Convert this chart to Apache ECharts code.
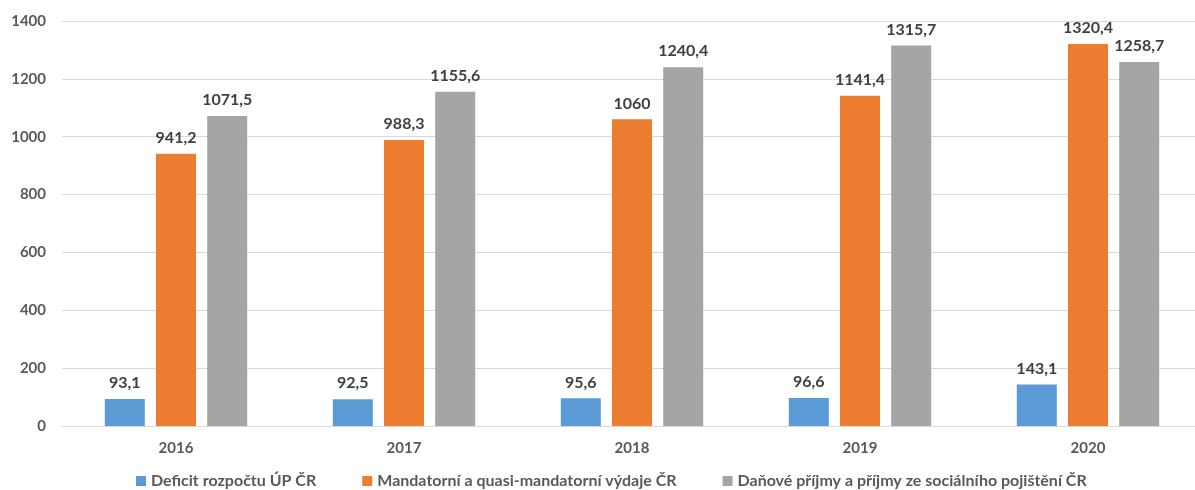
<!DOCTYPE html>
<html>
<head>
<meta charset="UTF-8">
<title>Deficit a výdaje</title>
<script src="https://cdn.jsdelivr.net/npm/echarts@6/dist/echarts.min.js"></script>
<style>
  html, body { margin: 0; padding: 0; background: #fff; }
  #main { width: 1195px; height: 490px; }
</style>
</head>
<body>
<div id="main"></div>
<script type="text/javascript">
// data
var years = ['2016', '2017', '2018', '2019', '2020'];
var deficit = [93.1, 92.5, 95.6, 96.6, 143.1];
var mandatorni = [941.2, 988.3, 1060, 1141.4, 1320.4];
var prijmy = [1071.5, 1155.6, 1240.4, 1315.7, 1258.7];
var seriesNames = [
  'Deficit rozpočtu ÚP ČR',
  'Mandatorní a quasi-mandatorní výdaje ČR',
  'Daňové příjmy a příjmy ze sociálního pojištění ČR'
];
var colors = ['#5B9BD5', '#ED7D31', '#A5A5A5'];

var font = 'Lato, "Open Sans", sans-serif';

function fmt(p) {
  return String(p.value).replace('.', ',');
}

function makeSeries(name, data, color) {
  return {
    name: name,
    type: 'bar',
    data: data,
    barWidth: 40,
    barGap: '28%',
    itemStyle: { color: color },
    label: {
      show: true,
      position: 'top',
      distance: 8,
      formatter: fmt,
      color: '#404040',
      fontWeight: 'bold',
      fontSize: 16,
      fontFamily: font
    }
  };
}

var myChart = echarts.init(document.getElementById('main'));
var option = {
  animation: false,
  grid: { left: 62, width: 1140, top: 21, height: 405, outerBoundsMode: 'none', containLabel: false },
  legend: {
    top: 473,
    left: 136,
    itemWidth: 10,
    itemHeight: 10,
    itemGap: 46,
    icon: 'rect',
    padding: 0,
    data: seriesNames,
    textStyle: { color: '#595959', fontSize: 16, fontWeight: 'bold', fontFamily: font }
  },
  xAxis: {
    type: 'category',
    data: years,
    axisLine: { lineStyle: { color: '#d9d9d9' } },
    axisTick: { show: false },
    axisLabel: { color: '#595959', fontSize: 15, fontWeight: 'bold', fontFamily: font, margin: 15 }
  },
  yAxis: {
    type: 'value',
    min: 0,
    max: 1400,
    interval: 200,
    axisLine: { show: false },
    axisTick: { show: false },
    splitLine: { lineStyle: { color: '#d9d9d9' } },
    axisLabel: {
      color: '#595959', fontSize: 15, fontWeight: 'bold', fontFamily: font, margin: 16,
      formatter: function (v) { return String(v); }
    }
  },
  series: [
    makeSeries(seriesNames[0], deficit, colors[0]),
    makeSeries(seriesNames[1], mandatorni, colors[1]),
    makeSeries(seriesNames[2], prijmy, colors[2])
  ]
};
myChart.setOption(option);
</script>
</body>
</html>
